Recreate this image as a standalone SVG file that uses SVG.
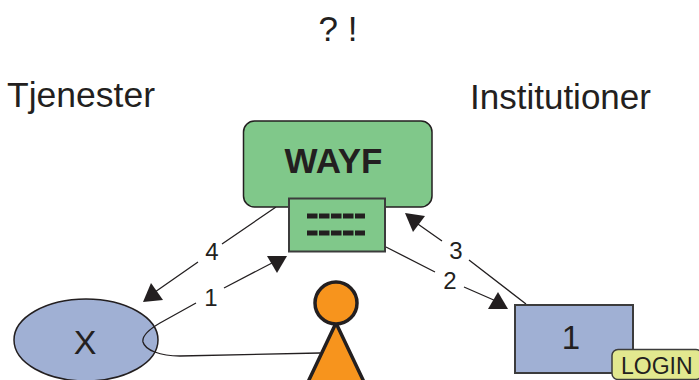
<svg xmlns="http://www.w3.org/2000/svg" width="699" height="380" viewBox="0 0 699 380">
<style>
text{font-family:"Liberation Sans",Arial,sans-serif;fill:#231f20}
.l{font-size:24px;text-anchor:middle}
.c{fill:none;stroke:#231f20;stroke-width:1.3}
.h{fill:#231f20}
.s{stroke:#231f20;stroke-width:1.5}
</style>
<rect width="699" height="380" fill="#fff"/>
<text x="338" y="41" font-size="35" text-anchor="middle">? !</text>
<text x="7" y="107" font-size="35.500">Tjenester</text>
<text x="470" y="109" font-size="35">Institutioner</text>
<g id="x"><ellipse cx="86" cy="340" rx="72" ry="41" fill="#a0b0d4" stroke="#231f20" stroke-width="1.5"/><text x="85" y="353.500" font-size="34" text-anchor="middle">X</text></g>
<g id="connectors">
<path class="c" d="M276 207L222 244M198 262L155 292"/>
<polygon class="h" points="143,302 151,283 163,300"/>
<path class="c" d="M224 288L272 263"/>
<polygon class="h" points="287,256 267,256 277,273"/>
<path class="c" d="M386 247L435 272M464 287L496 301"/>
<polygon class="h" points="508,309 488,309 498,292"/>
<path class="c" d="M526 304L469 260M442 241L415 222"/>
<polygon class="h" points="405,213 425,216 413,232"/>
<path class="c" d="M196 303L160 323C148 330 142 337 143 342C145 350 160 356 180 356L320 353"/>
</g>
<g id="wayf"><rect x="243.500" y="121" width="188.500" height="86" rx="11" fill="#80c88a" class="s"/><text x="333.500" y="173" font-size="35" font-weight="bold" text-anchor="middle">WAYF</text></g>
<g id="list"><rect x="289" y="198.500" width="96" height="53" fill="#80c88a" stroke="#3c3c3c" stroke-width="2"/><path d="M307 216H365M307 233H365" fill="none" stroke="#231f20" stroke-width="5" stroke-dasharray="10.500 1.500"/></g>
<g id="person"><path d="M336 323L308 382H364Z" fill="#f7941d" stroke="#231f20" stroke-width="3.500"/><circle cx="336" cy="303" r="21" fill="#f7941d" stroke="#231f20" stroke-width="3.500"/></g>
<g id="inst"><rect x="515" y="305" width="118" height="68" fill="#a0b0d4" stroke="#3c3c3c" stroke-width="2"/><text x="571" y="349" font-size="33" text-anchor="middle">1</text></g>
<g id="login"><rect x="612" y="349.500" width="90" height="30" rx="6" fill="#e2e88f" stroke="#3c3c3c" stroke-width="1.500"/><text x="621" y="374" font-size="23">LOGIN</text></g>
<text class="l" x="212" y="260">4</text>
<text class="l" x="211" y="306">1</text>
<text class="l" x="456" y="259">3</text>
<text class="l" x="450" y="289">2</text>
</svg>
